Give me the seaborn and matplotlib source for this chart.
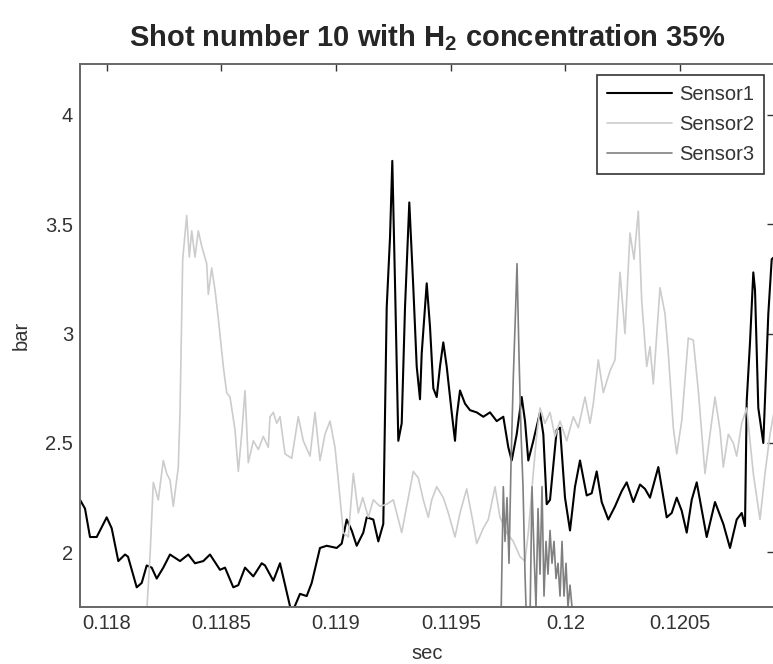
import matplotlib
matplotlib.use("Agg")
import matplotlib.pyplot as plt
import seaborn as sns
from matplotlib.ticker import FixedLocator, FixedFormatter

# ---- pressure traces (time in s, pressure in bar) ----
t1 = [0.1178836, 0.1179054, 0.1179272, 0.1179564, 0.1180000, 0.1180218, 0.1180506, 0.1180798, 0.1180929, 0.1181308,
      0.1181526, 0.1181744, 0.1181962, 0.1182180, 0.1182467, 0.1182759, 0.1183195, 0.1183557, 0.1183849, 0.1184211,
      0.1184503, 0.1184939, 0.1185157, 0.1185519, 0.1185737, 0.1186029, 0.1186391, 0.1186757, 0.1186901, 0.1187263,
      0.1187555, 0.1188065, 0.1188426, 0.1188718, 0.1188936, 0.1189298, 0.1189590, 0.1190026, 0.1190244, 0.1190462,
      0.1190680, 0.1190898, 0.1191185, 0.1191334, 0.1191622, 0.1191840, 0.1192057, 0.1192206, 0.1192350, 0.1192450,
      0.1192568, 0.1192712, 0.1192860, 0.1193004, 0.1193191, 0.1193366, 0.1193514, 0.1193657, 0.1193732, 0.1193950,
      0.1194094, 0.1194238, 0.1194386, 0.1194529, 0.1194673, 0.1194821, 0.1195039, 0.1195183, 0.1195257, 0.1195401,
      0.1195619, 0.1195837, 0.1196129, 0.1196417, 0.1196709, 0.1197001, 0.1197289, 0.1197507, 0.1197655, 0.1197873,
      0.1198091, 0.1198235, 0.1198379, 0.1198597, 0.1198889, 0.1199033, 0.1199181, 0.1199325, 0.1199617, 0.1199761,
      0.1199978, 0.1200196, 0.1200414, 0.1200632, 0.1200924, 0.1201142, 0.1201360, 0.1201578, 0.1201866, 0.1202158,
      0.1202450, 0.1202668, 0.1202956, 0.1203248, 0.1203466, 0.1203684, 0.1204046, 0.1204412, 0.1204630, 0.1204848,
      0.1205066, 0.1205284, 0.1205502, 0.1205720, 0.1206155, 0.1206517, 0.1206879, 0.1207171, 0.1207463, 0.1207681,
      0.1207825, 0.1207899, 0.1208043, 0.1208187, 0.1208261, 0.1208405, 0.1208623, 0.1208841, 0.1208989, 0.1209089]
sensor1 = [2.24, 2.20, 2.07, 2.07, 2.16, 2.11, 1.96, 1.99, 1.98, 1.84,
           1.86, 1.94, 1.93, 1.88, 1.93, 1.99, 1.96, 1.99, 1.95, 1.96,
           1.99, 1.92, 1.93, 1.84, 1.85, 1.93, 1.89, 1.95, 1.94, 1.87,
           1.95, 1.72, 1.81, 1.80, 1.86, 2.02, 2.03, 2.02, 2.04, 2.15,
           2.10, 2.03, 2.09, 2.16, 2.15, 2.05, 2.13, 3.12, 3.44, 3.79,
           3.23, 2.51, 2.59, 3.12, 3.60, 3.21, 2.85, 2.70, 2.91, 3.23,
           3.03, 2.75, 2.71, 2.85, 2.96, 2.85, 2.64, 2.51, 2.62, 2.74,
           2.68, 2.65, 2.64, 2.62, 2.64, 2.60, 2.62, 2.48, 2.42, 2.54,
           2.71, 2.60, 2.42, 2.51, 2.64, 2.54, 2.22, 2.24, 2.56, 2.57,
           2.25, 2.10, 2.30, 2.42, 2.26, 2.27, 2.37, 2.23, 2.15, 2.21,
           2.28, 2.32, 2.23, 2.31, 2.29, 2.25, 2.39, 2.16, 2.18, 2.25,
           2.19, 2.09, 2.24, 2.32, 2.07, 2.23, 2.13, 2.02, 2.15, 2.18,
           2.12, 2.69, 2.96, 3.28, 3.20, 2.66, 2.50, 3.09, 3.34, 3.35]

t2 = [0.1178836, 0.1180580, 0.1181713, 0.1181757, 0.1181888, 0.1182031, 0.1182249, 0.1182467, 0.1182616, 0.1182759,
      0.1182903, 0.1183121, 0.1183195, 0.1183313, 0.1183487, 0.1183601, 0.1183705, 0.1183849, 0.1183993, 0.1184141,
      0.1184359, 0.1184429, 0.1184577, 0.1184721, 0.1184865, 0.1185083, 0.1185231, 0.1185375, 0.1185593, 0.1185737,
      0.1185885, 0.1186029, 0.1186173, 0.1186391, 0.1186609, 0.1186827, 0.1187045, 0.1187119, 0.1187263, 0.1187411,
      0.1187555, 0.1187773, 0.1188065, 0.1188352, 0.1188570, 0.1188863, 0.1189080, 0.1189298, 0.1189516, 0.1189734,
      0.1189952, 0.1190096, 0.1190314, 0.1190532, 0.1190750, 0.1190968, 0.1191160, 0.1191404, 0.1191622, 0.1191914,
      0.1192206, 0.1192494, 0.1192642, 0.1192860, 0.1193148, 0.1193366, 0.1193584, 0.1193801, 0.1194020, 0.1194168,
      0.1194386, 0.1194673, 0.1194892, 0.1195183, 0.1195401, 0.1195693, 0.1195981, 0.1196129, 0.1196417, 0.1196635,
      0.1196927, 0.1197145, 0.1197437, 0.1197725, 0.1198017, 0.1198235, 0.1198379, 0.1198527, 0.1198745, 0.1198889,
      0.1199107, 0.1199325, 0.1199543, 0.1199761, 0.1200053, 0.1200341, 0.1200559, 0.1200850, 0.1201068, 0.1201212,
      0.1201430, 0.1201648, 0.1201940, 0.1202158, 0.1202376, 0.1202594, 0.1202812, 0.1202986, 0.1203174, 0.1203322,
      0.1203540, 0.1203684, 0.1203828, 0.1204120, 0.1204338, 0.1204482, 0.1204700, 0.1204848, 0.1205066, 0.1205353,
      0.1205571, 0.1205789, 0.1206081, 0.1206299, 0.1206517, 0.1206735, 0.1206879, 0.1207097, 0.1207315, 0.1207463,
      0.1207681, 0.1207899, 0.1208187, 0.1208479, 0.1208697, 0.1208915, 0.1209089]
sensor2 = [1.55, 1.60, 1.66, 1.75, 1.98, 2.32, 2.24, 2.42, 2.36, 2.33,
           2.21, 2.39, 2.64, 3.34, 3.54, 3.35, 3.47, 3.35, 3.47, 3.40,
           3.32, 3.18, 3.30, 3.20, 3.07, 2.85, 2.73, 2.71, 2.56, 2.37,
           2.54, 2.74, 2.41, 2.51, 2.47, 2.53, 2.48, 2.62, 2.64, 2.59,
           2.62, 2.45, 2.43, 2.62, 2.51, 2.44, 2.64, 2.42, 2.54, 2.60,
           2.48, 2.33, 2.09, 2.07, 2.36, 2.18, 2.25, 2.16, 2.24, 2.21,
           2.22, 2.24, 2.18, 2.09, 2.25, 2.37, 2.34, 2.24, 2.16, 2.24,
           2.30, 2.25, 2.18, 2.07, 2.18, 2.29, 2.13, 2.04, 2.11, 2.15,
           2.30, 2.16, 2.09, 2.05, 1.98, 1.96, 2.09, 2.28, 2.54, 2.66,
           2.59, 2.64, 2.53, 2.60, 2.51, 2.62, 2.57, 2.71, 2.59, 2.68,
           2.88, 2.73, 2.83, 2.88, 3.28, 3.00, 3.46, 3.34, 3.56, 3.15,
           2.85, 2.94, 2.77, 3.21, 3.09, 2.91, 2.57, 2.45, 2.60, 2.98,
           2.97, 2.74, 2.36, 2.54, 2.71, 2.56, 2.39, 2.54, 2.50, 2.44,
           2.59, 2.66, 2.36, 2.15, 2.36, 2.54, 2.64]

t3 = [0.1178836, 0.1188426, 0.1197014, 0.1197189, 0.1197289, 0.1197363, 0.1197450, 0.1197537, 0.1197624, 0.1197725,
      0.1197821, 0.1197886, 0.1197973, 0.1198060, 0.1198148, 0.1198235, 0.1198322, 0.1198453, 0.1198540, 0.1198627,
      0.1198714, 0.1198802, 0.1198889, 0.1198976, 0.1199063, 0.1199150, 0.1199237, 0.1199325, 0.1199412, 0.1199499,
      0.1199586, 0.1199673, 0.1199761, 0.1199848, 0.1199935, 0.1200022, 0.1200109, 0.1200196, 0.1200327, 0.1200458,
      0.1201504, 0.1209089]
sensor3 = [1.50, 1.52, 1.55, 1.70, 2.30, 2.05, 2.25, 1.95, 2.40, 2.80,
           3.10, 3.32, 2.90, 2.55, 2.30, 1.90, 1.60, 1.70, 2.30, 2.00,
           1.75, 2.20, 1.90, 2.30, 1.80, 2.05, 1.90, 2.10, 1.95, 2.05,
           1.88, 1.95, 1.80, 2.05, 1.80, 1.95, 1.75, 1.85, 1.70, 1.60,
           1.50, 1.50]

series_names = ["Sensor1", "Sensor2", "Sensor3"]
x_ticks = [0.118, 0.1185, 0.119, 0.1195, 0.12, 0.1205]
x_tick_labels = ["0.118", "0.1185", "0.119", "0.1195", "0.12", "0.1205"]
y_ticks = [2, 2.5, 3, 3.5, 4]
y_tick_labels = ["2", "2.5", "3", "3.5", "4"]

sns.set_theme(style="white")
plt.rcParams["font.family"] = ["Liberation Sans", "DejaVu Sans"]
plt.rcParams["mathtext.fontset"] = "custom"
plt.rcParams["mathtext.rm"] = "Liberation Sans"
plt.rcParams["mathtext.bf"] = "Liberation Sans:bold"

fig = plt.figure(figsize=(7.73, 6.64), dpi=100)
ax = fig.add_axes([80 / 773, 57 / 664, 694 / 773, 543 / 664])

styles = [("#000000", 1.5), ("#cccccc", 1.2), ("#808080", 1.2)]
for (t, p), name, (col, lw) in zip([(t1, sensor1), (t2, sensor2), (t3, sensor3)], series_names, styles):
    sns.lineplot(x=t, y=p, ax=ax, color=col, linewidth=lw, label=name,
                 estimator=None, sort=False)

ax.set_xlim(0.1178836, 0.1209089)
ax.set_ylim(1.75, 4.233)

ax.xaxis.set_major_locator(FixedLocator(x_ticks))
ax.xaxis.set_major_formatter(FixedFormatter(x_tick_labels))
ax.yaxis.set_major_locator(FixedLocator(y_ticks))
ax.yaxis.set_major_formatter(FixedFormatter(y_tick_labels))
ax.tick_params(direction="in", length=5, width=1, color="#333333",
               top=True, right=True, labelsize=14.5, labelcolor="#333333", pad=5)
for s in ax.spines.values():
    s.set_color("#666666")
    s.set_linewidth(1.4)

ax.set_xlabel("sec", fontsize=14.5, color="#333333", labelpad=8)
ax.set_ylabel("bar", fontsize=14.5, color="#333333", labelpad=10)

leg = ax.legend(loc="upper right", bbox_to_anchor=(0.9856, 0.9797), borderaxespad=0,
                fancybox=False, edgecolor="#333333", framealpha=1, fontsize=14.5,
                handlelength=3.2, handletextpad=0.35, labelspacing=0.55, borderpad=0.5)
leg.get_frame().set_linewidth(1.2)
for txt in leg.get_texts():
    txt.set_color("#333333")

fig.text(427 / 773, 1 - 46 / 664, r"Shot number 10 with H$_\mathbf{2}$ concentration 35%",
         ha="center", va="baseline", fontsize=21, fontweight="bold")

fig.savefig("out.png", dpi=100)
